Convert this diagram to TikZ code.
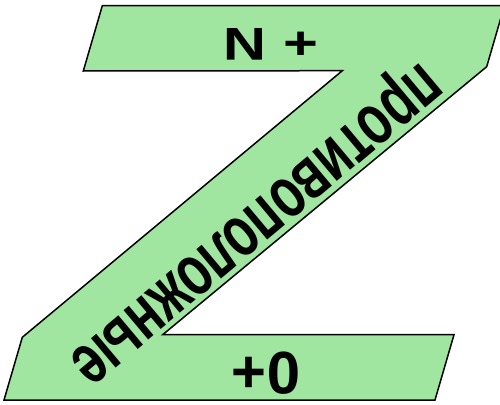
\documentclass[tikz,border=0pt]{standalone}
\usepackage{fontspec}
\setmainfont{Liberation Sans}
\definecolor{zgreen}{RGB}{160,230,161}
\tikzset{
  zshape/.style={draw=black, line width=1.5pt, fill=zgreen, line join=miter},
  ztext/.style={inner sep=0pt, font=\bfseries, text=black}
}
\begin{document}
\begin{tikzpicture}[x=1pt,y=-1pt]
\useasboundingbox (0,0) rectangle (500,404);
\begin{scope}
\clip (0,0) rectangle (500,404);
\draw[zshape] (102.3,5.7) -- (504.4,5.7) -- (486.7,66.7) -- (162.7,334.7)
  -- (454,334.7) -- (435,400) -- (4,400) -- (22.3,337.3) -- (342.3,70.7)
  -- (83.3,71) -- cycle;
\end{scope}
\node[ztext, rotate=180, xscale=1.3, font=\fontsize{46}{46}\selectfont\bfseries] (top) at (271,44) {+ N};
\node[ztext, rotate=180, font=\fontsize{60}{60}\selectfont\bfseries] (bot) at (266,373) {0+};
\node[ztext, rotate=220, yscale=1.45, font=\fontsize{50}{50}\selectfont\bfseries] (diag) at (252,219) {противоположные};
\end{tikzpicture}
\end{document}
